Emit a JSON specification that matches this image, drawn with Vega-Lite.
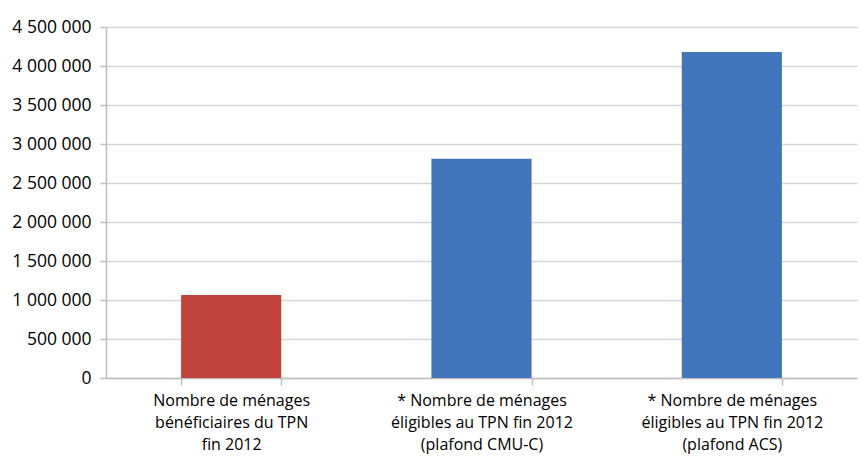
{
  "$schema": "https://vega.github.io/schema/vega-lite/v6.json",
  "autosize": {"type": "none"},
  "width": 751,
  "height": 351,
  "padding": {"left": 106, "top": 27, "right": 5, "bottom": 81},
  "background": "white",
  "config": {
    "locale": {"number": {"decimal": ",", "thousands": " ", "grouping": [3], "currency": ["", " €"]}},
    "view": {"stroke": null},
    "font": "Open Sans"
  },
  "data": {
    "values": [
      {"categorie": "Nombre de ménages|bénéficiaires du TPN|fin 2012", "menages": 1065000, "groupe": "bénéficiaires"},
      {"categorie": "* Nombre de ménages|éligibles au TPN fin 2012|(plafond CMU-C)", "menages": 2810000, "groupe": "éligibles"},
      {"categorie": "* Nombre de ménages|éligibles au TPN fin 2012|(plafond ACS)", "menages": 4180000, "groupe": "éligibles"}
    ]
  },
  "mark": {"type": "bar"},
  "encoding": {
    "x": {
      "field": "categorie",
      "type": "nominal",
      "sort": null,
      "scale": {"paddingInner": 0.6, "paddingOuter": 0.3},
      "axis": {
        "title": null,
        "labelAngle": 0,
        "labelExpr": "split(datum.label, '|')",
        "labelFont": "Open Sans",
        "labelFontSize": 16,
        "labelLineHeight": 22,
        "labelColor": "#000000",
        "labelPadding": 7,
        "labelBaseline": "top",
        "labelLimit": 300,
        "tickBand": "extent",
        "tickSize": 7,
        "tickColor": "#BFBFBF",
        "tickWidth": 1.5,
        "domainColor": "#BFBFBF",
        "domainWidth": 1.5,
        "grid": false
      }
    },
    "y": {
      "field": "menages",
      "type": "quantitative",
      "scale": {"domain": [0, 4500000], "nice": false},
      "axis": {
        "title": null,
        "values": [0, 500000, 1000000, 1500000, 2000000, 2500000, 3000000, 3500000, 4000000, 4500000],
        "format": ",d",
        "labelFont": "Open Sans",
        "labelFontSize": 17.5,
        "labelColor": "#000000",
        "labelPadding": 9,
        "tickSize": 6,
        "tickColor": "#BFBFBF",
        "tickWidth": 1.5,
        "domainColor": "#BFBFBF",
        "domainWidth": 1.5,
        "gridColor": "#D6D6D6",
        "gridWidth": 1.5
      }
    },
    "color": {
      "field": "groupe",
      "type": "nominal",
      "scale": {"domain": ["bénéficiaires", "éligibles"], "range": ["#C0423C", "#4375BA"]},
      "legend": null
    }
  }
}
